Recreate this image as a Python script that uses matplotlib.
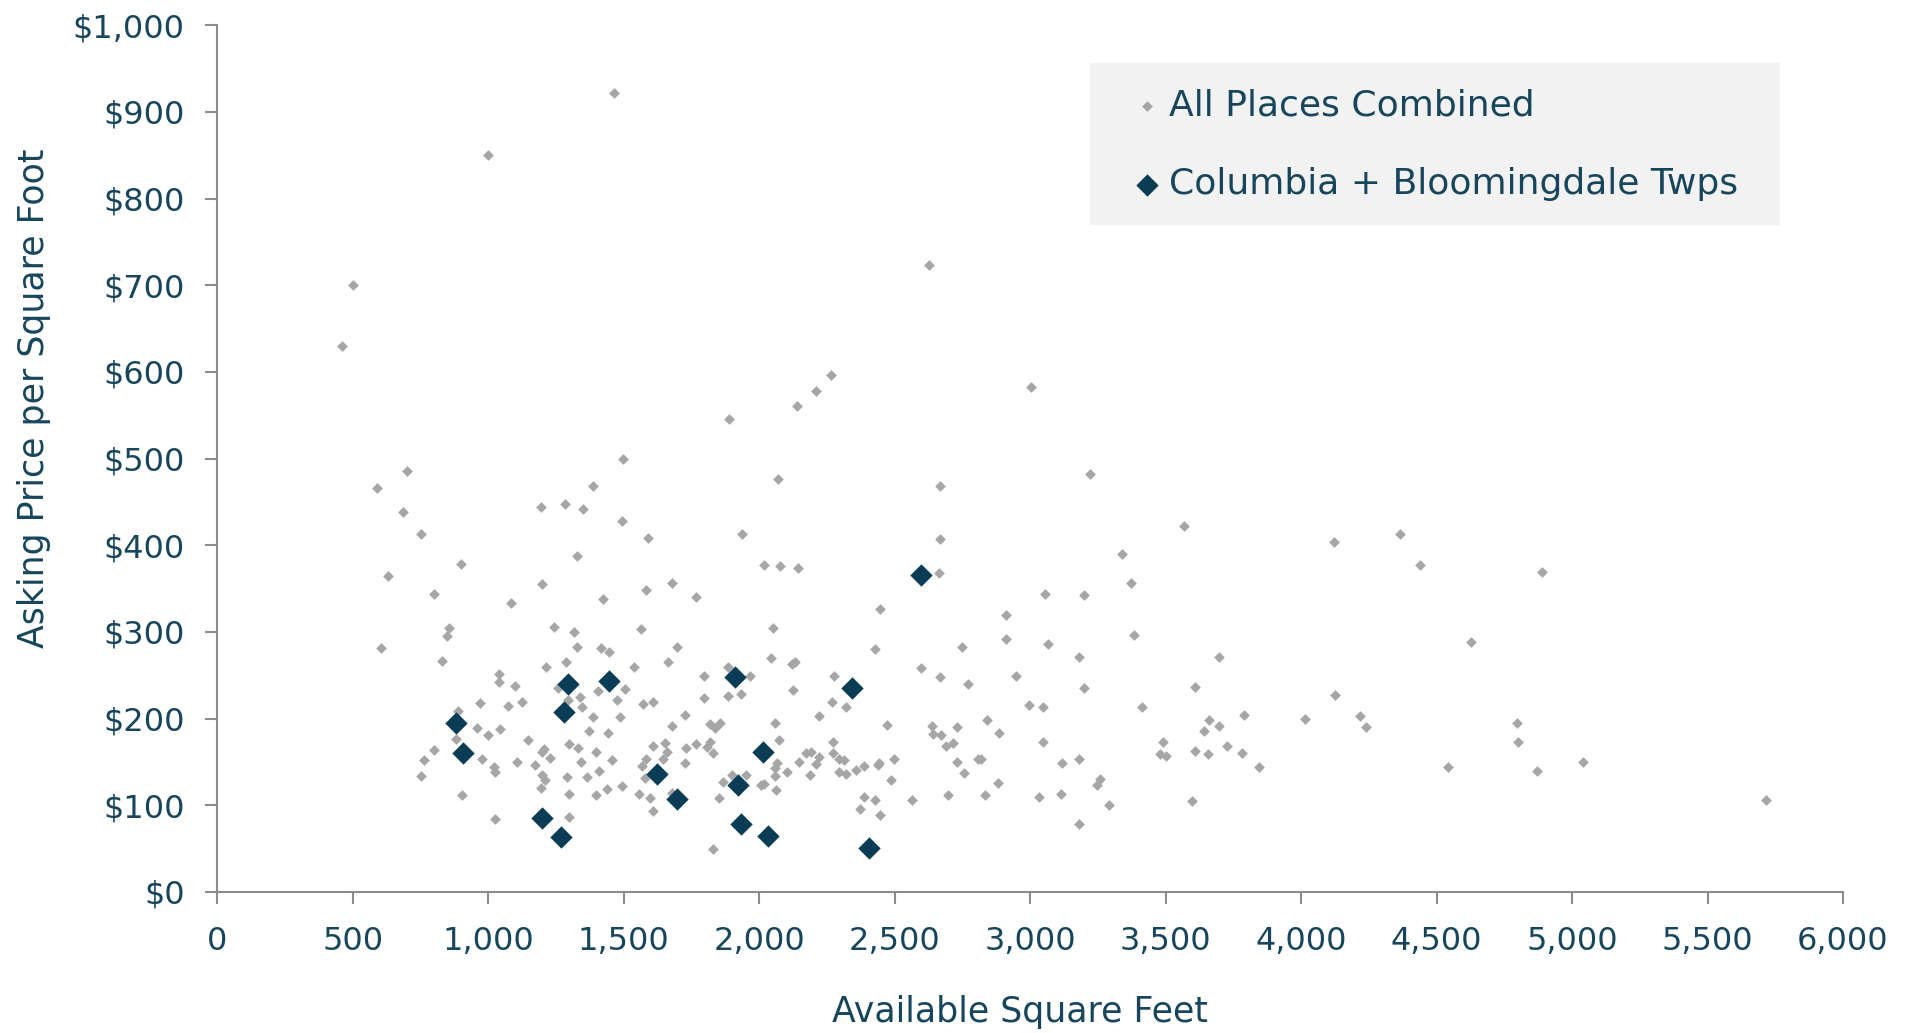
import matplotlib.pyplot as plt
from matplotlib.patches import Rectangle
from matplotlib.ticker import FuncFormatter, MultipleLocator

# all listings (square feet, asking $ per sq ft)
all_sqft = [
    500, 460, 700, 590, 685, 750, 630, 605, 761, 750,
    1498, 1387, 1193, 1283, 1348, 1493, 1588, 1937, 898, 1329,
    798, 1084, 1198, 1422, 1583, 1678, 1767, 854, 849, 1242,
    1317, 1562, 1327, 1417, 1447, 1696, 828, 1213, 1287, 1539,
    1662, 1038, 1886, 1796, 1966,
    1039, 1098, 969, 889, 1073, 1124, 1256, 1338, 1293, 1347,
    1404, 1474, 1504, 1387, 1487, 1572, 1609, 1796, 1886, 1932,
    1727, 1678, 957, 999, 1043, 880, 798, 978, 1022, 1025,
    1105, 1148, 1197, 1205, 1228, 1172, 1199, 1209, 1193, 1289,
    1299, 1333, 1343, 1373, 1443, 1399, 1458, 1408, 1363, 1299,
    1397, 1437, 1493, 904, 1024, 1299, 1556, 1597, 1609, 1566,
    1582, 1578, 1609, 1652, 1658, 1646, 1728, 1726, 1766, 1818,
    1837, 1856, 1818, 1808, 1828, 1867, 1898, 1852, 1951, 1828,
    1677,
    2068, 2667, 2667, 2016, 2076, 2142, 2662, 3055, 2447, 2910,
    2052, 2427, 2747, 2910, 3065, 2042, 2120, 2132, 2597, 2277,
    2667, 2946,
    2125, 2267, 2322, 2771, 2995, 3046, 2221, 2057, 2470, 2636,
    2640, 2670, 2731, 2840, 2886, 3046, 2688, 2717, 2073, 2272,
    2064, 2060, 2057, 2005, 2018, 2061, 2101, 2146, 2171, 2191,
    2221, 2208, 2187, 2272, 2293, 2312, 2293, 2322, 2359, 2387,
    2439, 2443, 2496, 2486, 2386, 2429, 2372, 2447, 2565, 2695,
    2731, 2755, 2807, 2817, 2880, 2835, 3031, 3114, 3119,
    3221, 3566, 3340, 3371, 3200, 3382, 3181, 3697, 3200, 3607,
    3411, 3791, 3660, 3640, 3697, 3727, 3607, 3657, 3782, 3846,
    3491, 3480, 3503, 4016, 4126, 4122, 4366, 4440, 4216, 4241,
    3181, 3257, 3245, 3292, 3181, 3596,
    4888, 4626, 4796, 4801, 4541, 4872, 5042, 5717,
    1000, 1465, 2628, 1889, 2140, 2210, 2265, 3003,
]
all_price = [
    700, 630, 486, 466, 438, 413, 365, 281, 152, 134,
    500, 468, 444, 448, 442, 428, 409, 413, 378, 388,
    344, 333, 355, 338, 348, 357, 340, 305, 295, 306,
    300, 304, 283, 282, 277, 283, 266, 260, 265, 260,
    265, 251, 260, 249, 249,
    242, 238, 218, 209, 215, 219, 235, 225, 222, 213,
    232, 221, 234, 202, 202, 217, 219, 224, 226, 229,
    204, 192, 189, 181, 188, 177, 164, 154, 144, 138,
    150, 175, 162, 165, 155, 146, 135, 129, 120, 133,
    171, 166, 150, 186, 184, 162, 152, 140, 133, 113,
    112, 119, 122, 112, 84, 86, 113, 108, 94, 145,
    153, 131, 169, 172, 161, 153, 166, 149, 171, 194,
    189, 195, 173, 167, 160, 127, 135, 109, 135, 50,
    114,
    477, 469, 407, 377, 376, 374, 368, 344, 327, 320,
    305, 280, 283, 292, 286, 270, 263, 265, 258, 249,
    248, 249,
    233, 219, 214, 240, 216, 214, 203, 195, 193, 192,
    182, 181, 190, 198, 183, 173, 169, 172, 175, 173,
    149, 143, 134, 124, 125, 118, 139, 150, 160, 161,
    156, 148, 135, 160, 153, 152, 139, 136, 141, 145,
    147, 149, 153, 129, 110, 106, 96, 89, 106, 112,
    150, 137, 154, 153, 126, 112, 110, 113, 149,
    482, 422, 390, 357, 343, 297, 271, 271, 235, 237,
    214, 204, 199, 186, 191, 168, 163, 159, 160, 144,
    173, 159, 157, 200, 227, 404, 413, 377, 203, 190,
    154, 130, 123, 100, 79, 105,
    369, 289, 195, 173, 144, 140, 150, 106,
    850, 922, 723, 546, 561, 578, 597, 583,
]

# Columbia + Bloomingdale townships
twp_sqft = [880, 908, 1198, 1269, 1279, 1293, 1447, 1621, 1697,
            1910, 1920, 1931, 2015, 2033, 2341, 2406, 2597]
twp_price = [195, 160, 85, 64, 208, 240, 243, 136, 107,
             248, 124, 79, 162, 65, 235, 51, 366]

text_color = "#17465C"
axis_color = "#8C8C8C"

plt.rcParams["font.family"] = ["DejaVu Sans"]

fig = plt.figure(figsize=(19.13, 10.33), dpi=100)
ax = fig.add_axes([0.1136, 0.1365, 0.8498, 0.839])

ax.scatter(all_sqft, all_price, marker="D", s=30, color="#A6A6A6",
           linewidths=0, label="All Places Combined", zorder=2)
ax.scatter(twp_sqft, twp_price, marker="D", s=130, color="#0B3C55",
           linewidths=0, label="Columbia + Bloomingdale Twps", zorder=3)

ax.set_xlim(0, 6000)
ax.set_ylim(0, 1000)
ax.xaxis.set_major_locator(MultipleLocator(500))
ax.yaxis.set_major_locator(MultipleLocator(100))
ax.xaxis.set_major_formatter(FuncFormatter(lambda v, p: f"{int(v):,}"))
ax.yaxis.set_major_formatter(FuncFormatter(lambda v, p: f"${int(v):,}"))

for side in ["top", "right"]:
    ax.spines[side].set_visible(False)
for side in ["left", "bottom"]:
    ax.spines[side].set_color(axis_color)
    ax.spines[side].set_linewidth(1.5)

ax.tick_params(axis="both", direction="out", length=8.5, width=1.5,
               color=axis_color, labelcolor=text_color, labelsize=23)
ax.tick_params(axis="y", pad=15)
ax.tick_params(axis="x", pad=16)

ax.set_xlabel("Available Square Feet", fontsize=25, color=text_color, va="center")
ax.set_ylabel("Asking Price per Square Foot", fontsize=25, color=text_color, va="center")
ax.xaxis.set_label_coords(0.494, -0.138)
ax.yaxis.set_label_coords(-0.113, 0.57)

# legend background box
ax.add_patch(Rectangle((0.537, 0.7696), 0.424, 0.187, transform=ax.transAxes,
                       facecolor="#F2F2F2", edgecolor="none", zorder=4))
leg = ax.legend(loc="upper left", bbox_to_anchor=(0.5633, 0.9274),
                borderaxespad=0, borderpad=0, fontsize=26, scatterpoints=1,
                labelspacing=1.25, handletextpad=0.2, handlelength=0.8,
                frameon=False)
leg.set_zorder(5)
for t in leg.get_texts():
    t.set_color(text_color)

fig.savefig("out.png", dpi=100)
